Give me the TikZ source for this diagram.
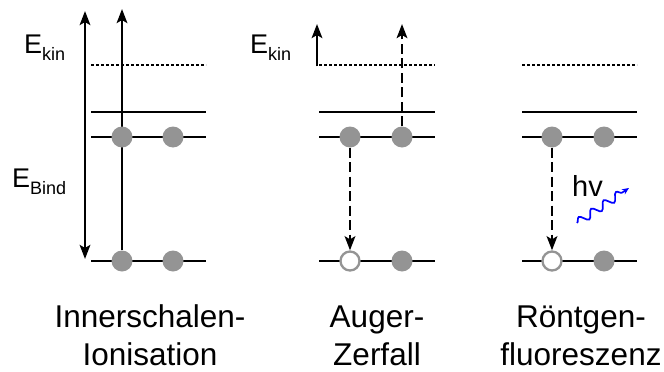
\documentclass[tikz,border=0pt]{standalone}
\usepackage{fontspec}
\setmainfont{Liberation Sans}
\usetikzlibrary{arrows.meta,decorations.pathmorphing}
\tikzset{
  level/.style={line width=2.9pt},
  dotlevel/.style={line width=2.8pt,dash pattern=on 2.6pt off 2.4pt},
  el/.style={circle,fill=black!42,minimum size=21pt,inner sep=0pt},
  hole/.style={circle,draw=black!42,line width=2.3pt,fill=white,minimum size=19pt,inner sep=0pt},
  tip/.tip={Stealth[length=14pt,width=10.5pt,inset=3pt]},
  arr/.style={line width=2.8pt,-tip},
  darr/.style={arr,dash pattern=on 10pt off 4.5pt},
  lbl/.style={font=\fontsize{31.5}{38}\selectfont,align=center,anchor=base,inner sep=0pt},
  ebig/.style={font=\fontsize{27}{27}\selectfont,inner sep=0pt,anchor=base west},
}
\newcommand{\sub}[1]{\raisebox{-0.28em}{\fontsize{18}{18}\selectfont #1}}
\begin{document}
\begin{tikzpicture}[x=1pt,y=-1pt]
\useasboundingbox (0,0) rectangle (664,372);
% panel 1
\draw[dotlevel] (91,65) -- (206,65);
\draw[level] (91,112) -- (206,112);
\draw[level] (91,137) -- (206,137);
\draw[level] (91,261) -- (206,261);
\coordinate (a1) at (85,259);
\coordinate (a2) at (85,11);
\draw[line width=2.8pt,tip-tip] (a1) -- (a2);
\coordinate (t1) at (122,9);
\node[el] (c1b) at (122,261) {};
\draw[arr] (c1b.north) -- (t1);
\node[el] (c1u) at (122,137) {};
\node[el] (c2u) at (173,137) {};
\node[el] (c2b) at (173,261) {};
\node[ebig] (ek1) at (24,53) {E\sub{kin}};
\node[ebig] (eb1) at (12,187) {E\sub{Bind}};
% panel 2
\draw[dotlevel] (319,65) -- (435,65);
\draw[level] (319,112) -- (435,112);
\draw[level] (319,137) -- (435,137);
\draw[level] (319,261) -- (435,261);
\coordinate (k2a) at (317,66.4);
\coordinate (k2b) at (317,24);
\draw[arr] (k2a) -- (k2b);
\node[ebig] (ek2) at (250,53) {E\sub{kin}};
\node[el] (d1u) at (350,137) {};
\node[el] (d2u) at (402,137) {};
\node[hole] (d1b) at (350,261) {};
\node[el] (d2b) at (402,261) {};
\coordinate (t2) at (402,24);
\draw[darr] (d2u.north) -- (t2);
\draw[darr] (d1u.south) -- (d1b.north);
% panel 3
\draw[dotlevel] (522,65) -- (637,65);
\draw[level] (522,112) -- (637,112);
\draw[level] (522,137) -- (637,137);
\draw[level] (522,261) -- (637,261);
\node[el] (f1u) at (552,137) {};
\node[el] (f2u) at (604,137) {};
\node[hole] (f1b) at (552,261) {};
\node[el] (f2b) at (604,261) {};
\draw[darr] (f1u.south) -- (f1b.north);
\node[ebig,font=\fontsize{29}{29}\selectfont] (hv) at (572,196) {hv};
\coordinate (w1) at (577,223);
\coordinate (w2) at (629,188);
\draw[blue,line width=1.7pt,-{Stealth[length=7pt,width=6pt]},decorate,decoration={snake,amplitude=4pt,segment length=15pt,post length=6pt}] (w1) -- (w2);
% labels
\node[lbl] (l1) at (150,365.5) {Innerschalen-\\Ionisation};
\node[lbl] (l2) at (377,365.5) {Auger-\\Zerfall};
\node[lbl] (l3) at (581,365.5) {Röntgen-\\fluoreszenz};
\end{tikzpicture}
\end{document}
